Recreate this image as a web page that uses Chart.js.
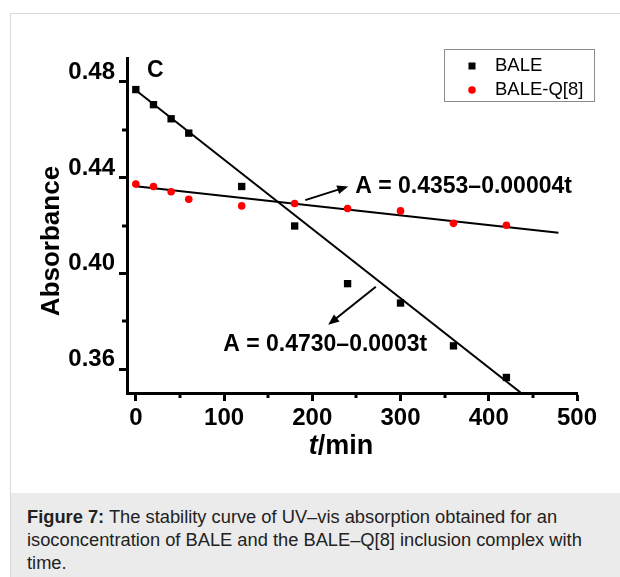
<!DOCTYPE html>
<html>
<head>
<meta charset="utf-8">
<script src="https://cdn.jsdelivr.net/npm/chart.js@4.4.1/dist/chart.umd.min.js"></script>
<style>
  body { margin: 0; background: #fff; font-family: "Liberation Sans", Arial, sans-serif; }
  #page { position: relative; width: 620px; height: 577px; overflow: hidden; }
  #frame { position: absolute; left: 10px; top: 13px; width: 640px; height: 600px; border: 1px solid #d9d9d9; box-sizing: border-box; }
  #plot { position: absolute; left: 0; top: 0; }
  #caption { position: absolute; left: 11px; top: 493px; width: 609px; height: 84px; background: #ebebeb;
    padding: 12px 0 0 16px; box-sizing: border-box; font-size: 18.3px; line-height: 23px; color: #222; white-space: nowrap; }
</style>
</head>
<body>
<div id="page">
  <div id="frame"></div>
  <canvas id="plot" width="620" height="492"></canvas>
  <div id="caption"><b>Figure 7:</b> The stability curve of UV–vis absorption obtained for an<br>isoconcentration of BALE and the BALE–Q[8] inclusion complex with<br>time.</div>
</div>
<script>
// measured data (t in min, absorbance)
const times = [0, 20, 40, 60, 120, 180, 240, 300, 360, 420];
const baleAbs = [0.4768, 0.4705, 0.4646, 0.4586, 0.4363, 0.4198, 0.3957, 0.3876, 0.3697, 0.3565];
const baleQ8Abs = [0.4373, 0.4363, 0.4341, 0.4310, 0.4282, 0.4292, 0.4271, 0.4261, 0.4209, 0.4201];

// fitted lines, end points
const baleFitT = [0, 436];
const baleFitAbs = [0.4765, 0.3502];
const q8FitT = [0, 479];
const q8FitAbs = [0.4364, 0.4170];
const fitLabels = ['A = 0.4730\u20130.0003t', 'A = 0.4353\u20130.00004t'];

// axes
const xTickValues = [0, 100, 200, 300, 400, 500];
const xMinorValues = [50, 150, 250, 350, 450];
const yTickValues = [0.36, 0.40, 0.44, 0.48];
const yMinorValues = [0.38, 0.42, 0.46];

const FONT = '"Liberation Sans", Arial, sans-serif';
const toPoints = (xs, ys) => xs.map((x, i) => ({ x: x, y: ys[i] }));

function arrow(ctx, x1, y1, x2, y2) {
  const a = Math.atan2(y2 - y1, x2 - x1), L = 11, W = 4.5;
  ctx.beginPath();
  ctx.moveTo(x1, y1);
  ctx.lineTo(x2 - L * 0.8 * Math.cos(a), y2 - L * 0.8 * Math.sin(a));
  ctx.stroke();
  ctx.beginPath();
  ctx.moveTo(x2, y2);
  ctx.lineTo(x2 - L * Math.cos(a) + W * Math.sin(a), y2 - L * Math.sin(a) - W * Math.cos(a));
  ctx.lineTo(x2 - L * Math.cos(a) - W * Math.sin(a), y2 - L * Math.sin(a) + W * Math.cos(a));
  ctx.closePath();
  ctx.fill();
}

// arrows + equations, in data units
const notes = [
  { text: fitLabels[0], from: [272, 0.3944], to: [218, 0.3785], at: [99, 0.3701] },
  { text: fitLabels[1], from: [192, 0.4306], to: [240.7, 0.4363], at: [248.6, 0.4364] }
];

const overlay = {
  id: 'overlay',
  afterDraw(chart) {
    const { ctx, chartArea } = chart;
    const x = chart.scales.x, y = chart.scales.y;
    ctx.save();
    ctx.strokeStyle = '#000';
    ctx.fillStyle = '#000';

    // minor ticks
    ctx.lineWidth = 3;
    xMinorValues.forEach(v => {
      const px = Math.round(x.getPixelForValue(v));
      ctx.beginPath(); ctx.moveTo(px, chartArea.bottom); ctx.lineTo(px, chartArea.bottom + 5); ctx.stroke();
    });
    yMinorValues.forEach(v => {
      const py = Math.round(y.getPixelForValue(v));
      ctx.beginPath(); ctx.moveTo(chartArea.left, py); ctx.lineTo(chartArea.left - 5, py); ctx.stroke();
    });

    // panel letter
    ctx.font = 'bold 23px ' + FONT;
    ctx.textAlign = 'center';
    ctx.textBaseline = 'middle';
    ctx.fillText('C', x.getPixelForValue(22), y.getPixelForValue(0.4847));

    // equations with arrows
    ctx.lineWidth = 2;
    notes.forEach(n => {
      arrow(ctx, x.getPixelForValue(n.from[0]), y.getPixelForValue(n.from[1]),
        x.getPixelForValue(n.to[0]), y.getPixelForValue(n.to[1]));
      ctx.font = 'bold 23px ' + FONT;
      ctx.textAlign = 'left';
      ctx.fillText(n.text, x.getPixelForValue(n.at[0]), y.getPixelForValue(n.at[1]));
    });

    // axis titles
    ctx.save();
    ctx.translate(52, 241);
    ctx.rotate(-Math.PI / 2);
    ctx.font = 'bold 26px ' + FONT;
    ctx.textAlign = 'center';
    ctx.fillText('Absorbance', 0, 0);
    ctx.restore();

    ctx.textAlign = 'left';
    ctx.font = 'italic bold 27px ' + FONT;
    const wT = ctx.measureText('t').width;
    ctx.font = 'bold 27px ' + FONT;
    const wRest = ctx.measureText('/min').width;
    const sx = 341 - (wT + wRest) / 2;
    ctx.font = 'italic bold 27px ' + FONT;
    ctx.fillText('t', sx, 447);
    ctx.font = 'bold 27px ' + FONT;
    ctx.fillText('/min', sx + wT, 447);

    // legend box
    ctx.lineWidth = 1;
    ctx.strokeStyle = '#8c8c8c';
    ctx.strokeRect(444.5, 49.5, 150, 52);
    const ds = chart.data.datasets;
    [0, 1].forEach((i, k) => {
      const cy = 66 + k * 24;
      ctx.fillStyle = ds[i].backgroundColor;
      if (ds[i].pointStyle === 'rect') {
        ctx.fillRect(472 - 3.5, cy - 3.5, 7, 7);
      } else {
        ctx.beginPath(); ctx.arc(472, cy, 3.8, 0, Math.PI * 2); ctx.fill();
      }
      ctx.fillStyle = '#000';
      ctx.font = '18.5px ' + FONT;
      ctx.textBaseline = 'middle';
      ctx.fillText(ds[i].label, 495, cy);
    });
    ctx.restore();
  }
};

const axisCommon = {
  type: 'linear',
  grid: { drawOnChartArea: false, drawTicks: true, tickLength: 8, tickWidth: 3, tickColor: '#000' },
  border: { display: true, color: '#000', width: 3 }
};

new Chart(document.getElementById('plot').getContext('2d'), {
  type: 'scatter',
  data: {
    datasets: [
      { label: 'BALE', data: toPoints(times, baleAbs), pointStyle: 'rect', pointRadius: 5.2,
        backgroundColor: '#000', borderColor: '#000', borderWidth: 0 },
      { label: 'BALE-Q[8]', data: toPoints(times, baleQ8Abs), pointStyle: 'circle', pointRadius: 3.8,
        backgroundColor: '#ff0000', borderColor: '#ff0000', borderWidth: 0 },
      { type: 'line', label: 'BALE fit', data: toPoints(baleFitT, baleFitAbs), borderColor: '#000',
        borderWidth: 2, pointRadius: 0, fill: false },
      { type: 'line', label: 'BALE-Q[8] fit', data: toPoints(q8FitT, q8FitAbs), borderColor: '#000',
        borderWidth: 2, pointRadius: 0, fill: false }
    ]
  },
  options: {
    responsive: false,
    animation: false,
    layout: { padding: { top: 58, right: 43, left: 0, bottom: 0 } },
    plugins: { legend: { display: false }, tooltip: { enabled: false } },
    scales: {
      x: Object.assign({}, axisCommon, {
        min: -10, max: 500,
        afterBuildTicks: s => { s.ticks = xTickValues.map(v => ({ value: v })); },
        afterFit: s => { s.height = 99; },
        ticks: { color: '#000', padding: 3, maxRotation: 0, autoSkip: false,
          font: { family: FONT, size: 24, weight: 'bold' } }
      }),
      y: Object.assign({}, axisCommon, {
        min: 0.35, max: 0.49,
        afterBuildTicks: s => { s.ticks = yTickValues.map(v => ({ value: v })); },
        afterFit: s => { s.width = 127; },
        ticks: { color: '#000', padding: 4, labelOffset: -9.5, autoSkip: false,
          callback: v => v.toFixed(2),
          font: { family: FONT, size: 24, weight: 'bold' } }
      })
    }
  },
  plugins: [overlay]
});
</script>
</body>
</html>
